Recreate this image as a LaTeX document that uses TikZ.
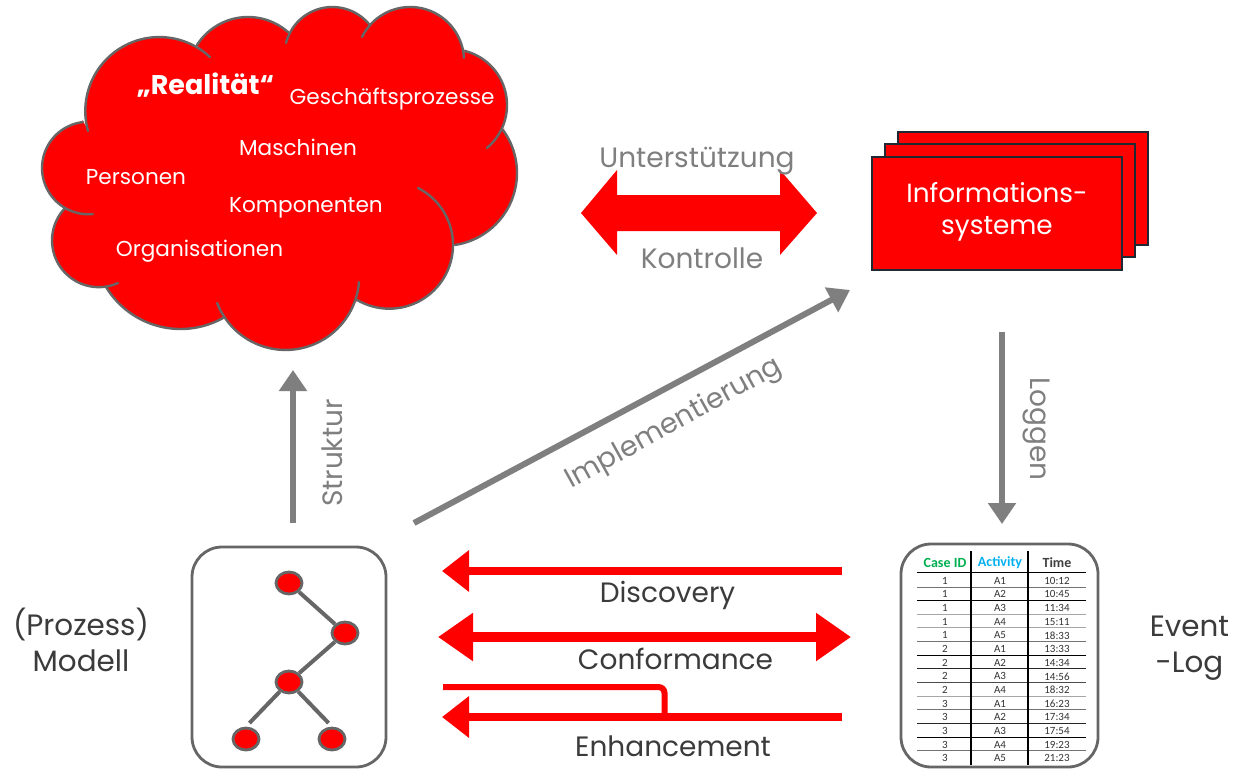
\documentclass[tikz,border=0pt]{standalone}
\usepackage{fontspec}
\setmainfont{Poppins}
\newfontfamily\tablefont{Carlito}
\usetikzlibrary{arrows.meta,shapes.geometric,calc}
\definecolor{redmain}{HTML}{FF0000}
\definecolor{greyline}{HTML}{666666}
\definecolor{greyarrow}{HTML}{7F7F7F}
\definecolor{greytext}{HTML}{7F7F7F}
\definecolor{darktext}{HTML}{3B3B3B}
\definecolor{boxedge}{HTML}{1F2933}
\definecolor{caseid}{HTML}{00B050}
\definecolor{activity}{HTML}{00B0F0}
% arc of the circle through three points, clockwise on screen
\newcommand{\lobecalc}[6]{%
  \pgfmathsetmacro{\bx}{0.01*(#3-#1)}\pgfmathsetmacro{\by}{0.01*(#4-#2)}%
  \pgfmathsetmacro{\cx}{0.01*(#5-#1)}\pgfmathsetmacro{\cy}{0.01*(#6-#2)}%
  \pgfmathsetmacro{\dd}{2*(\bx*\cy-\by*\cx)}%
  \pgfmathsetmacro{\bb}{\bx*\bx+\by*\by}\pgfmathsetmacro{\cc}{\cx*\cx+\cy*\cy}%
  \pgfmathsetmacro{\ux}{(\cy*\bb-\by*\cc)/\dd}\pgfmathsetmacro{\uy}{(\bx*\cc-\cx*\bb)/\dd}%
  \pgfmathsetmacro{\rr}{100*sqrt(\ux*\ux+\uy*\uy)}%
  \pgfmathsetmacro{\ccx}{#1+100*\ux}\pgfmathsetmacro{\ccy}{#2+100*\uy}%
  \pgfmathsetmacro{\aone}{atan2(#2-\ccy,#1-\ccx)}%
  \pgfmathsetmacro{\atwo}{atan2(#6-\ccy,#5-\ccx)}%
  \pgfmathsetmacro{\aend}{\aone+mod(\atwo-\aone+720,360)}%
}
\newcommand{\lobe}[6]{%
  \lobecalc{#1}{#2}{#3}{#4}{#5}{#6}%
  \filldraw[fill=redmain,draw=redmain,line width=0.8pt] plot[domain=\aone:\aend,samples=50,smooth] ({\ccx+\rr*cos(\x)},{\ccy+\rr*sin(\x)}) -- cycle;
}
\newcommand{\lobeline}[6]{%
  \lobecalc{#1}{#2}{#3}{#4}{#5}{#6}%
  \draw[cloudedge] plot[domain=\aone:\aend,samples=50,smooth] ({\ccx+\rr*cos(\x)},{\ccy+\rr*sin(\x)});
}
\tikzset{
  cloudedge/.style={draw=greyline,line width=2.4pt,line cap=round},
  cloudtext/.style={text=white,font=\fontsize{21.6}{25}\selectfont,inner sep=0pt,anchor=base},
  labelgrey/.style={text=greytext,font=\fontsize{28}{32}\selectfont,inner sep=0pt},
  labeldark/.style={text=darktext,font=\fontsize{28}{32}\selectfont,inner sep=0pt,anchor=base},
  sidelabel/.style={text=darktext,font=\fontsize{29.4}{36}\selectfont,inner sep=0pt,align=center},
  infobox/.style={draw=boxedge,fill=redmain,line width=2.4pt,minimum width=250pt,minimum height=113pt,inner sep=0pt},
  roundbox/.style={draw=greyline,fill=white,line width=2.8pt,rounded corners=30pt,inner sep=0pt},
  treenode/.style={ellipse,draw=greyline,fill=redmain,line width=2.8pt,minimum width=26pt,minimum height=22pt,inner sep=0pt},
  treeline/.style={draw=greyline,line width=4pt},
  greyconn/.style={draw=greyarrow,line width=6pt,-{Triangle[length=21pt,width=27pt]}},
  redconn/.style={draw=redmain,line width=8pt,-{Triangle[length=27pt,width=40pt]}},
  reddouble/.style={draw=redmain,line width=10pt,{Triangle[length=35pt,width=46pt]}-{Triangle[length=35pt,width=46pt]}},
  redbranch/.style={draw=redmain,line width=6pt,rounded corners=6pt},
  cellt/.style={font=\tablefont\fontsize{11}{12}\selectfont,text=black!80,inner sep=0pt},
  cellh/.style={font=\tablefont\bfseries\fontsize{14}{15}\selectfont,inner sep=0pt},
}
\begin{document}
\begin{tikzpicture}[x=1pt,y=-1pt]
\useasboundingbox (0,0) rectangle (1236,769);
\fill[white] (0,0) rectangle (1236,769);

% cloud
\filldraw[fill=redmain,draw=redmain,line width=0.8pt] (88,131)--(210,57)--(197,45)--(288,32)--(286,43)--(369,24)--(362,37)--(464,58)--(465,51)--(487,148)--(503,130)--(455,245)--(418,188)--(357,300)--(359,282)--(217,303)--(223,318)--(106,287)--(118,283)--(65,208)--(93,214)--(83,122)--cycle;
\lobe{88}{131}{158}{37}{210}{57}
\lobe{197}{45}{247}{17}{288}{32}
\lobe{286}{43}{333}{7}{369}{24}
\lobe{362}{37}{412}{7}{464}{58}
\lobe{465}{51}{507}{107}{487}{148}
\lobe{503}{130}{517}{173}{455}{245}
\lobe{418}{188}{453}{247}{357}{300}
\lobe{359}{282}{285}{350}{217}{303}
\lobe{223}{318}{180}{329}{106}{287}
\lobe{118}{283}{52}{240}{65}{208}
\lobe{93}{214}{42}{167}{83}{122}
\lobeline{88}{131}{158}{37}{210}{57}
\lobeline{197}{45}{247}{17}{288}{32}
\lobeline{286}{43}{333}{7}{369}{24}
\lobeline{362}{37}{412}{7}{464}{58}
\lobeline{465}{51}{507}{107}{487}{148}
\lobeline{503}{130}{517}{173}{455}{245}
\lobeline{418}{188}{453}{247}{357}{300}
\lobeline{359}{282}{285}{350}{217}{303}
\lobeline{223}{318}{180}{329}{106}{287}
\lobeline{118}{283}{52}{240}{65}{208}
\lobeline{93}{214}{42}{167}{83}{122}

\node[cloudtext,font=\bfseries\fontsize{27}{30}\selectfont] (realitaet) at (205.5,94) {„Realität“};
\node[cloudtext] (gp) at (392,104) {Geschäftsprozesse};
\node[cloudtext] (ma) at (298,155) {Maschinen};
\node[cloudtext] (pe) at (136,184) {Personen};
\node[cloudtext] (ko) at (306,212) {Komponenten};
\node[cloudtext] (or) at (199.5,256) {Organisationen};

% information systems
\node[infobox] (is3) at (1023,188.5) {};
\node[infobox] (is2) at (1010,200.5) {};
\node[infobox] (is1) at (997,213.5) {};
\node[align=center,text=white,inner sep=0pt,font=\fontsize{26.3}{32}\selectfont] (istext) at (997,212) {Informations-\\systeme};

% block double arrow
\fill[redmain] (581,213)--(617,170)--(617,195)--(780,195)--(780,170)--(817,213)--(780,255)--(780,231)--(617,231)--(617,255)--cycle;
\node[labelgrey,anchor=base] (unt) at (697,167) {Unterstützung};
\node[labelgrey,anchor=base] (kon) at (702,268) {Kontrolle};

% model box
\node[roundbox,minimum width=194pt,minimum height=220pt] (model) at (289,657) {};
\node[treenode] (t1) at (289,583) {};
\node[treenode] (t2) at (345,633) {};
\node[treenode] (t3) at (289,682) {};
\node[treenode] (t4) at (246,739) {};
\node[treenode] (t5) at (332,739) {};
\draw[treeline] (t1) -- (t2);
\draw[treeline] (t2) -- (t3);
\draw[treeline,shorten >=5pt] (t3) -- (t4.north);
\draw[treeline,shorten >=5pt] (t3) -- (t5.north);

% event log
\node[roundbox,minimum width=197pt,minimum height=223pt] (log) at (999.5,655.5) {};
\foreach \i/\sh in {0/55,1/100,2/35,3/35,4/55,5/100,6/85,7/70,8/35,9/55,10/85,11/100,12/55}{
  \pgfmathsetmacro{\yy}{587+13.64*\i}
  \draw[draw=black!\sh,line width=1pt] (917,\yy)--(1086,\yy);
}
\draw[draw=black,line width=1.6pt] (917,572.3)--(1086,572.3);
\draw[draw=black,line width=1.4pt] (971,551)--(971,765);
\draw[draw=black,line width=1.4pt] (1028,551)--(1028,765);
\node[cellh,text=caseid] (hcase) at (945,563) {Case ID};
\node[cellh,text=activity] (hact) at (1000,563) {Activity};
\node[cellh,text=black!75] (htime) at (1057,563) {Time};
\foreach \c/\a/\t [count=\n from 0] in {1/A1/10:12,1/A2/10:45,1/A3/11:34,1/A4/15:11,1/A5/18:33,2/A1/13:33,2/A2/14:34,2/A3/14:56,2/A4/18:32,3/A1/16:23,3/A2/17:34,3/A3/17:54,3/A4/19:23,3/A5/21:23}{
  \pgfmathsetmacro{\yy}{580.7+13.66*\n}
  \node[cellt] (c\n) at (945,\yy) {\c};
  \node[cellt] (a\n) at (1000,\yy) {\a};
  \node[cellt] (z\n) at (1057,\yy) {\t};
}

% grey connectors
\coordinate (struktA) at (293,523);
\coordinate (struktB) at (293,370);
\coordinate (implA) at (414,523);
\coordinate (implB) at (850,290);
\coordinate (logA) at (1002,332);
\coordinate (logB) at (1002,524);
\draw[greyconn] (struktA) -- (struktB);
\draw[greyconn] (implA) -- (implB);
\draw[greyconn] (logA) -- (logB);
\node[labelgrey,rotate=90] (str) at (332,453) {Struktur};
\node[labelgrey,rotate=29] (imp) at (674,424) {Implementierung};
\node[labelgrey,rotate=-90] (lgg) at (1036,429) {Loggen};

% red connectors
\coordinate (discA) at (842,571);
\coordinate (discB) at (442,571);
\coordinate (confA) at (438,637);
\coordinate (confB) at (851,637);
\coordinate (enhA) at (842,717);
\coordinate (enhB) at (442,717);
\coordinate (brA) at (443,687);
\coordinate (brB) at (664.5,717);
\draw[redconn] (discA) -- (discB);
\draw[reddouble] (confA) -- (confB);
\draw[redconn] (enhA) -- (enhB);
\draw[redbranch] (brA) -| (brB);
\node[labeldark] (disc) at (667.5,602) {Discovery};
\node[labeldark] (conf) at (675.5,669.5) {Conformance};
\node[labeldark] (enh) at (673,756) {Enhancement};

% side labels
\node[sidelabel] (prozess) at (81,640) {(Prozess)\\Modell};
\node[sidelabel] (event) at (1189.5,648.5) {Event\\-Log};
\end{tikzpicture}
\end{document}
